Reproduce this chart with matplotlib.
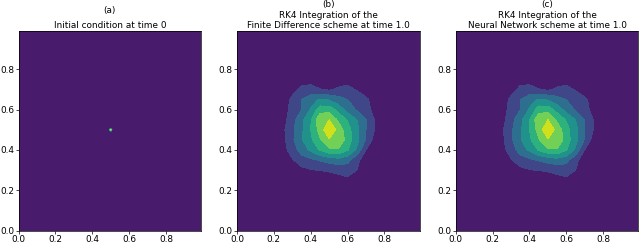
import matplotlib
matplotlib.use("Agg")
import matplotlib.pyplot as plt
import numpy as np

# grid coordinates of the blob region (the rest of the domain is zero)
blob_x = [0.20, 0.25, 0.30, 0.35, 0.40, 0.45, 0.50, 0.55, 0.60, 0.65, 0.70, 0.75, 0.80]
blob_y = [0.20, 0.25, 0.30, 0.35, 0.40, 0.45, 0.50, 0.55, 0.60, 0.65, 0.70, 0.75, 0.80]

# field at time 1.0, finite difference scheme (rows bottom -> top), in level units
fd_field = [
    [0.0, 0.0, 0.0, 0.0, 0.0, 0.0, 0.0, 0.0, 0.0, 0.0, 0.0, 0.0, 0.0],
    [0.0, 0.0, 0.0, 0.0, 0.0, 0.1, 0.3, 0.6, 0.75, 0.5, 0.1, 0.0, 0.0],
    [0.0, 0.0, 0.2, 0.7, 0.95, 1.05, 1.15, 1.3, 1.5, 1.0, 0.3, 0.0, 0.0],
    [0.0, 0.15, 0.9, 1.6, 1.8, 2.1, 2.4, 2.6, 2.3, 1.3, 0.4, 0.1, 0.0],
    [0.0, 0.6, 1.5, 2.4, 3.2, 4.1, 4.8, 4.9, 4.1, 2.8, 1.0, 0.2, 0.0],
    [0.0, 0.7, 1.8, 2.9, 3.8, 4.9, 5.9, 5.9, 4.5, 3.3, 1.9, 0.5, 0.0],
    [0.0, 0.8, 1.8, 2.8, 4.0, 5.4, 6.9, 5.6, 4.4, 3.3, 2.0, 0.9, 0.0],
    [0.0, 0.6, 1.6, 2.7, 3.9, 5.8, 6.0, 4.8, 3.9, 3.0, 2.0, 0.9, 0.1],
    [0.0, 0.6, 1.3, 2.0, 3.1, 4.5, 4.6, 3.6, 2.6, 1.9, 1.4, 0.6, 0.1],
    [0.0, 0.4, 1.25, 2.0, 2.6, 3.1, 2.9, 2.4, 2.0, 1.7, 1.2, 0.5, 0.0],
    [0.0, 0.1, 0.6, 1.25, 1.35, 1.05, 0.85, 1.15, 1.3, 0.9, 0.4, 0.1, 0.0],
    [0.0, 0.0, 0.2, 0.6, 0.6, 0.4, 0.3, 0.5, 0.6, 0.4, 0.1, 0.0, 0.0],
    [0.0, 0.0, 0.0, 0.0, 0.0, 0.0, 0.0, 0.0, 0.0, 0.0, 0.0, 0.0, 0.0],
]
# neural network scheme: visually identical
nn_field = [row[:] for row in fd_field]

# initial condition: single spike at the centre of a 100x100 grid
n_grid = 100
dx = 0.01
spike_idx = 50
spike_val = 1.0

titles = ["Initial condition at time 0",
          "RK4 Integration of the\nFinite Difference scheme at time 1.0",
          "RK4 Integration of the\nNeural Network scheme at time 1.0"]
labels = ["(a)", "(b)", "(c)"]
ticks = [0.0, 0.2, 0.4, 0.6, 0.8]

fs = 6.4
plt.rcParams.update({
    "font.size": fs,
    "axes.linewidth": 0.5,
    "xtick.major.size": 2.0,
    "ytick.major.size": 2.0,
    "xtick.major.width": 0.5,
    "ytick.major.width": 0.5,
    "xtick.major.pad": 1.0,
    "ytick.major.pad": 1.0,
})

fig = plt.figure(figsize=(6.4, 2.44), dpi=100)
W, H = 640.0, 244.0
lefts = [18.5, 237.0, 455.7]
ax_w, ax_top, ax_bot = 182.5, 31.0, 230.5
axes = [fig.add_axes([l / W, (H - ax_bot) / H, ax_w / W, (ax_bot - ax_top) / H]) for l in lefts]

# (a) initial condition
g = np.arange(n_grid) * dx
ic = np.zeros((n_grid, n_grid))
ic[spike_idx, spike_idx] = spike_val
axes[0].contourf(g, g, ic, cmap="viridis")

# (b), (c): pad the blob region with zeros out to the domain edges
px = np.concatenate([[0.0], blob_x, [0.99]])
py = np.concatenate([[0.0], blob_y, [0.99]])
levels = np.arange(8)
for ax, f in zip(axes[1:], [fd_field, nn_field]):
    z = np.pad(np.array(f), 1)
    ax.contourf(px, py, z, levels=levels, cmap="viridis")

for i, ax in enumerate(axes):
    ax.set_xlim(0, 0.99)
    ax.set_ylim(0, 0.99)
    ax.set_xticks(ticks)
    ax.set_yticks(ticks)
    ax.set_title(titles[i], fontsize=fs, pad=2.5, linespacing=1.1)

lab_y = [10, 5, 5]
for i, ax in enumerate(axes):
    cx = (lefts[i] + ax_w / 2) / W
    fig.text(cx, 1 - lab_y[i] / H, labels[i], ha="center", va="center", fontsize=fs)

fig.savefig("out.png", dpi=100)
